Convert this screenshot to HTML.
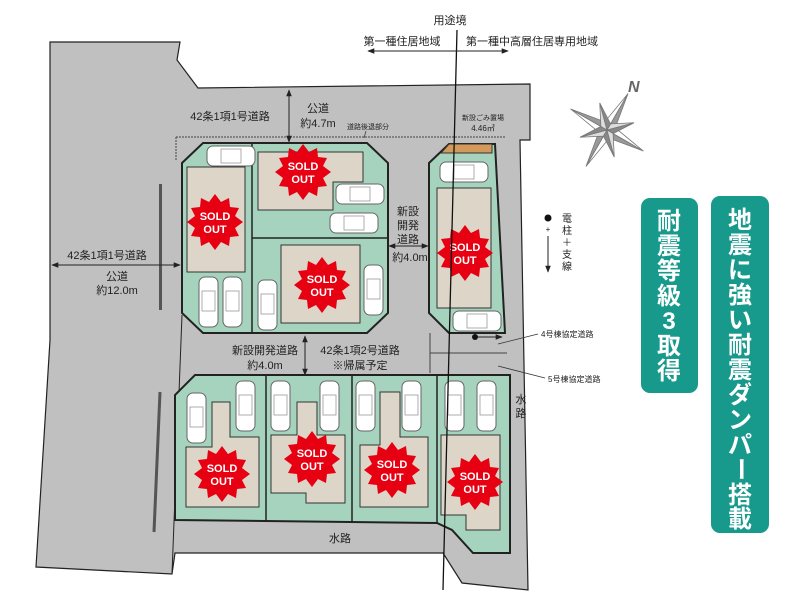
<!DOCTYPE html>
<html><head><meta charset="utf-8"><style>
html,body{margin:0;padding:0;background:#fff;width:800px;height:600px;overflow:hidden}
svg{display:block}
text{font-family:"Liberation Sans","Noto Sans CJK JP",sans-serif;fill:#222}
.w{fill:#fff}
</style></head><body>
<svg width="800" height="600" viewBox="0 0 800 600" xmlns="http://www.w3.org/2000/svg">
<defs>
<g id="sold">
<polygon points="0,-28 6,-20 14,-24 15,-15 24,-14 20,-6 28,0 20,6 24,14 15,15 14,24 6,20 0,28 -6,20 -14,24 -15,15 -24,14 -20,6 -28,0 -20,-6 -24,-14 -15,-15 -14,-24 -6,-20" fill="#e60012"/>
<text x="0" y="-2" text-anchor="middle" font-size="11" font-weight="bold" class="w">SOLD</text>
<text x="0" y="11" text-anchor="middle" font-size="11" font-weight="bold" class="w">OUT</text>
</g>
<g id="cv"><rect x="0" y="0" width="19" height="50" rx="6" fill="#fff" stroke="#666" stroke-width="1"/><rect x="3" y="14" width="13" height="20" fill="none" stroke="#999" stroke-width="0.8"/></g>
<g id="ch"><rect x="0" y="0" width="48" height="20" rx="6" fill="#fff" stroke="#666" stroke-width="1"/><rect x="14" y="3" width="20" height="14" fill="none" stroke="#999" stroke-width="0.8"/></g>
<marker id="ar" viewBox="0 0 10 10" refX="9" refY="5" markerWidth="7" markerHeight="7" orient="auto-start-reverse"><path d="M0,1L10,5L0,9z" fill="#222"/></marker>
</defs>
<polygon points="50,42 180,42 177,60 198,88 530,84 530,140 520,140 528,590 462,583 443,553 175,553 172,574 36,567 50,340" fill="#c0c0c0" stroke="#222" stroke-width="1.2"/>
<line x1="175" y1="520" x2="443" y2="523" stroke="#222"/>
<line x1="182" y1="315" x2="172" y2="574" stroke="#222"/>
<rect x="159" y="184" width="3" height="126" fill="#555"/>
<line x1="160" y1="392" x2="154" y2="532" stroke="#555" stroke-width="3"/>
<line x1="176" y1="137" x2="506" y2="137" stroke="#444" stroke-dasharray="2,1"/>
<line x1="176" y1="137" x2="176" y2="160" stroke="#444" stroke-dasharray="2,1"/>
<line x1="430" y1="353" x2="507" y2="353" stroke="#444"/>
<line x1="430" y1="333" x2="430" y2="373" stroke="#444"/>
<polygon points="182,163 203,143 367,143 388,163 388,313 367,333 203,333 182,313" fill="#a5d3bd" stroke="#222" stroke-width="2"/>
<line x1="252" y1="143" x2="252" y2="333" stroke="#222" stroke-width="1.5"/>
<line x1="252" y1="238" x2="388" y2="238" stroke="#222" stroke-width="1.5"/>
<rect x="187" y="167" width="58" height="105" fill="#ddd5c8" stroke="#333"/>
<polygon points="258,152 363,152 363,182 333,182 333,210 258,210" fill="#ddd5c8" stroke="#333"/>
<rect x="281" y="245" width="79" height="78" fill="#ddd5c8" stroke="#333"/>
<use href="#ch" x="207" y="146"/>
<use href="#ch" x="336" y="184"/>
<use href="#ch" x="330" y="213"/>
<use href="#cv" x="199" y="277"/><use href="#cv" x="223" y="277"/>
<use href="#cv" x="258" y="280"/><use href="#cv" x="364" y="265"/>
<polygon points="429,163 449,144 495,144 505,333 449,333 429,313" fill="#a5d3bd" stroke="#222" stroke-width="2"/>
<polygon points="449,144 492,144 492,153 441,153" fill="#d49a5c" stroke="#333"/>
<rect x="437" y="188" width="54" height="120" fill="#ddd5c8" stroke="#333"/>
<use href="#ch" x="440" y="162"/><use href="#ch" x="453" y="311"/>
<polygon points="195,375 510,375 510,553 473,553 452,530 437,523 175,520 175,395" fill="#a5d3bd" stroke="#222" stroke-width="2"/>
<line x1="266" y1="375" x2="266" y2="522" stroke="#222" stroke-width="1.5"/>
<line x1="352" y1="375" x2="352" y2="522" stroke="#222" stroke-width="1.5"/>
<line x1="437" y1="375" x2="437" y2="523" stroke="#222" stroke-width="1.5"/>
<polygon points="212,402 230,402 230,437 259,437 259,507 186,507 186,447 212,447" fill="#ddd5c8" stroke="#333"/>
<polygon points="297,402 317,402 317,435 345,435 345,503 306,503 306,493 271,493 271,435 297,435" fill="#ddd5c8" stroke="#333"/>
<polygon points="380,392 400,392 400,437 428,437 428,507 360,507 360,445 380,445" fill="#ddd5c8" stroke="#333"/>
<polygon points="441,435 500,435 500,530 466,530 466,515 441,515" fill="#ddd5c8" stroke="#333"/>
<use href="#cv" x="187" y="393"/><use href="#cv" x="236" y="381"/>
<use href="#cv" x="271" y="381"/><use href="#cv" x="320" y="381"/>
<use href="#cv" x="356" y="381"/><use href="#cv" x="402" y="381"/>
<use href="#cv" x="445" y="381"/><use href="#cv" x="477" y="381"/>
<use href="#sold" x="303" y="172"/><use href="#sold" x="215" y="222"/>
<use href="#sold" x="322" y="285"/><use href="#sold" x="465" y="253"/>
<use href="#sold" x="222" y="474"/><use href="#sold" x="312" y="459"/>
<use href="#sold" x="392" y="470"/><use href="#sold" x="475" y="482"/>
<line x1="457" y1="30" x2="443" y2="590" stroke="#111" stroke-width="1.3"/>
<text x="450" y="24" text-anchor="middle" font-size="11">用途境</text>
<text x="402" y="45" text-anchor="middle" font-size="11">第一種住居地域</text>
<text x="532" y="45" text-anchor="middle" font-size="11">第一種中高層住居専用地域</text>
<line x1="368" y1="51" x2="508" y2="51" stroke="#222" marker-start="url(#ar)" marker-end="url(#ar)"/>
<line x1="289" y1="90" x2="289" y2="142" stroke="#222" marker-start="url(#ar)" marker-end="url(#ar)"/>
<text x="230" y="120" text-anchor="middle" font-size="11">42条1項1号道路</text>
<text x="318" y="112" text-anchor="middle" font-size="11">公道</text>
<text x="318" y="127" text-anchor="middle" font-size="11">約4.7m</text>
<text x="368" y="129" text-anchor="middle" font-size="7">道路後退部分</text>
<line x1="366" y1="131" x2="364" y2="138" stroke="#333" stroke-width="0.7"/>
<text x="483" y="120" text-anchor="middle" font-size="7">新設ごみ置場</text>
<text x="483" y="131" text-anchor="middle" font-size="8">4.46㎡</text>
<text x="408" y="215" text-anchor="middle" font-size="11">新設</text>
<text x="408" y="229" text-anchor="middle" font-size="11">開発</text>
<text x="408" y="243" text-anchor="middle" font-size="11">道路</text>
<line x1="389" y1="246" x2="428" y2="246" stroke="#222" marker-start="url(#ar)" marker-end="url(#ar)"/>
<text x="410" y="261" text-anchor="middle" font-size="11">約4.0m</text>
<line x1="52" y1="265" x2="180" y2="265" stroke="#222" marker-start="url(#ar)" marker-end="url(#ar)"/>
<text x="107" y="259" text-anchor="middle" font-size="11">42条1項1号道路</text>
<text x="117" y="280" text-anchor="middle" font-size="11">公道</text>
<text x="117" y="294" text-anchor="middle" font-size="11">約12.0m</text>
<line x1="305" y1="336" x2="305" y2="375" stroke="#222" marker-start="url(#ar)" marker-end="url(#ar)"/>
<text x="265" y="354" text-anchor="middle" font-size="11">新設開発道路</text>
<text x="265" y="369" text-anchor="middle" font-size="11">約4.0m</text>
<text x="360" y="354" text-anchor="middle" font-size="11">42条1項2号道路</text>
<text x="360" y="369" text-anchor="middle" font-size="11">※帰属予定</text>
<circle cx="475" cy="337" r="3" fill="#111"/>
<line x1="478" y1="337" x2="502" y2="337" stroke="#222" marker-end="url(#ar)"/>
<line x1="498" y1="344" x2="538" y2="334" stroke="#333" stroke-width="0.8"/>
<text x="541" y="337" font-size="8">4号棟協定道路</text>
<line x1="498" y1="366" x2="545" y2="378" stroke="#333" stroke-width="0.8"/>
<text x="548" y="382" font-size="8">5号棟協定道路</text>
<text x="521" y="403" text-anchor="middle" font-size="11">水</text>
<text x="521" y="417" text-anchor="middle" font-size="11">路</text>
<text x="340" y="542" text-anchor="middle" font-size="11">水路</text>
<circle cx="548" cy="218" r="3.5" fill="#111"/>
<text x="548" y="232" text-anchor="middle" font-size="8">+</text>
<line x1="548" y1="236" x2="548" y2="272" stroke="#222" marker-end="url(#ar)"/>
<text x="567" y="222" text-anchor="middle" font-size="10">電</text>
<text x="567" y="234" text-anchor="middle" font-size="10">柱</text>
<text x="567" y="246" text-anchor="middle" font-size="10">＋</text>
<text x="567" y="258" text-anchor="middle" font-size="10">支</text>
<text x="567" y="270" text-anchor="middle" font-size="10">線</text>
<g transform="translate(607,130) rotate(30)" stroke="#777" stroke-width="0.8">
<polygon points="0,-42 6,-6 0,0" fill="#999"/><polygon points="0,-42 -6,-6 0,0" fill="#fff"/>
<polygon points="0,42 6,6 0,0" fill="#fff"/><polygon points="0,42 -6,6 0,0" fill="#999"/>
<polygon points="42,0 6,6 0,0" fill="#999"/><polygon points="42,0 6,-6 0,0" fill="#fff"/>
<polygon points="-42,0 -6,6 0,0" fill="#fff"/><polygon points="-42,0 -6,-6 0,0" fill="#999"/>
<g transform="rotate(45)"><polygon points="0,-28 5,-5 0,0" fill="#888"/><polygon points="0,-28 -5,-5 0,0" fill="#ddd"/><polygon points="0,28 5,5 0,0" fill="#ddd"/><polygon points="0,28 -5,5 0,0" fill="#888"/><polygon points="28,0 5,5 0,0" fill="#888"/><polygon points="28,0 5,-5 0,0" fill="#ddd"/><polygon points="-28,0 -5,5 0,0" fill="#ddd"/><polygon points="-28,0 -5,-5 0,0" fill="#888"/></g>
</g>
<text x="628" y="92" font-size="16" font-style="italic" font-weight="bold" style="fill:#666">N</text>
<rect x="641" y="198" width="57" height="195" rx="9" fill="#17998c"/>
<g font-size="24" font-weight="bold" text-anchor="middle">
<text x="669" y="229" class="w">耐</text><text x="669" y="254" class="w">震</text><text x="669" y="279" class="w">等</text><text x="669" y="304" class="w">級</text><text x="669" y="329" class="w">3</text><text x="669" y="354" class="w">取</text><text x="669" y="379" class="w">得</text></g>
<rect x="711" y="196" width="58" height="337" rx="9" fill="#17998c"/>
<g font-size="24" font-weight="bold" text-anchor="middle">
<text x="740" y="228" class="w">地</text><text x="740" y="253" class="w">震</text><text x="740" y="278" class="w">に</text><text x="740" y="303" class="w">強</text><text x="740" y="328" class="w">い</text><text x="740" y="353" class="w">耐</text><text x="740" y="378" class="w">震</text><text x="740" y="403" class="w">ダ</text><text x="740" y="428" class="w">ン</text><text x="740" y="453" class="w">パ</text>
<text x="0" y="0" class="w" transform="translate(740,469) rotate(90)" dominant-baseline="central">ー</text>
<text x="740" y="503" class="w">搭</text><text x="740" y="527" class="w">載</text></g>
</svg>
</body></html>
